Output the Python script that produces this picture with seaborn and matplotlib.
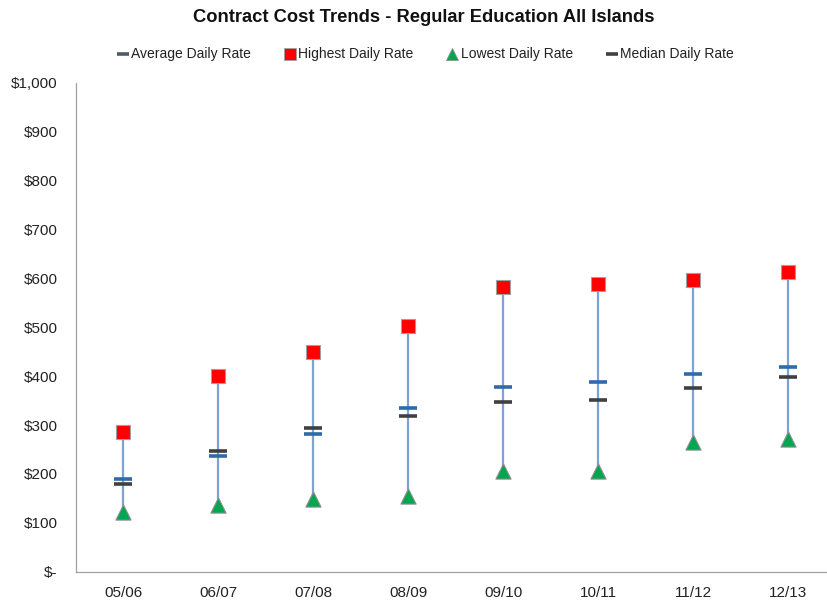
import matplotlib
matplotlib.use("Agg")
import matplotlib.pyplot as plt
from matplotlib.lines import Line2D
import seaborn as sns
import pandas as pd

years = ["05/06", "06/07", "07/08", "08/09", "09/10", "10/11", "11/12", "12/13"]
highest = [286, 400, 450, 502, 583, 589, 596, 614]
lowest = [123, 137, 149, 155, 207, 207, 266, 271]
average = [190, 237, 282, 334, 378, 388, 405, 418]
median = [179, 246, 295, 319, 348, 352, 376, 398]

sns.set_theme(style="white")
plt.rcParams["font.family"] = ["Liberation Sans Narrow", "Liberation Sans", "DejaVu Sans"]

df = pd.DataFrame({"Year": years, "High": highest, "Low": lowest,
                   "Average": average, "Median": median})
df["pos"] = range(len(df))

fig = plt.figure(figsize=(8.28, 6.05), dpi=100)
ax = fig.add_axes([0.0912, 0.055, 0.918, 0.808])

# High-low connector lines
ax.vlines(df["pos"], df["Low"], df["High"], color="#7DA3D3", lw=1.6, zorder=1)

avg_c = "#2F6BA8"
med_c = "#404040"
sns.scatterplot(data=df, x="pos", y="Median", marker="_", s=150, linewidth=2.6,
                color=med_c, ax=ax, zorder=3, legend=False)
sns.scatterplot(data=df, x="pos", y="Average", marker="_", s=150, linewidth=2.6,
                color=avg_c, ax=ax, zorder=3, legend=False)
sns.scatterplot(data=df, x="pos", y="High", marker="s", s=110, color="#FF0000",
                edgecolor="#A0A0A0", linewidth=0.8, ax=ax, zorder=4, legend=False)
sns.scatterplot(data=df, x="pos", y="Low", marker="^", s=120, color="#00A650",
                edgecolor="#909090", linewidth=0.8, ax=ax, zorder=4, legend=False)

ax.set_xlim(-0.5, len(years) - 0.5)
ax.set_ylim(0, 1000)
ax.set_yticks(range(0, 1001, 100))
ax.set_yticklabels(["$-"] + [f"${v:,}" for v in range(100, 1001, 100)])
ax.set_xticks(range(len(years)))
ax.set_xticklabels(years)
ax.set_xticks([i + 0.5 for i in range(len(years) - 1)], minor=True)
ax.tick_params(axis="x", which="major", length=0, pad=10, labelsize=11, colors="#222222")
ax.tick_params(axis="x", which="minor", length=5, width=0.8, color="#A0A0A0", direction="out")
ax.tick_params(axis="y", length=5, width=0.8, color="#A0A0A0", direction="out",
               labelsize=11, colors="#222222", pad=8)
ax.tick_params(axis="y", colors="#A0A0A0", labelcolor="#222222")
ax.set_xlabel("")
ax.set_ylabel("")
for side in ("top", "right"):
    ax.spines[side].set_visible(False)
for side in ("left", "bottom"):
    ax.spines[side].set_color("#A0A0A0")
    ax.spines[side].set_linewidth(0.9)

handles = [
    Line2D([], [], marker="_", ls="none", color="#4F5B66", markersize=8, mew=2.6),
    Line2D([], [], marker="s", ls="none", color="#FF0000", mec="#A0A0A0", mew=0.6, markersize=8),
    Line2D([], [], marker="^", ls="none", color="#00A650", mec="#909090", mew=0.6, markersize=8),
    Line2D([], [], marker="_", ls="none", color=med_c, markersize=8, mew=2.6),
]
labels = ["Average Daily Rate", "Highest Daily Rate", "Lowest Daily Rate", "Median Daily Rate"]
fig.legend(handles, labels, loc="center", bbox_to_anchor=(0.514, 0.91), ncol=4,
           frameon=False, fontsize=10, handlelength=0.8, handletextpad=0.2,
           columnspacing=2.4, labelcolor="#222222")

fig.suptitle("Contract Cost Trends - Regular Education All Islands", x=0.512, y=0.985,
             fontsize=13.2, fontweight="bold", color="#111111")

fig.savefig("out.png", dpi=100)
